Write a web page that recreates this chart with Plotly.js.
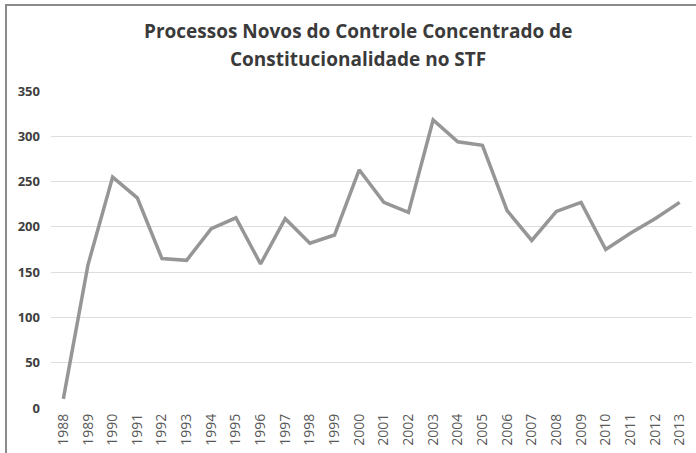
<!DOCTYPE html>
<html>
<head>
<meta charset="utf-8">
<script src="https://cdn.plot.ly/plotly-3.0.1.min.js"></script>
<style>
html,body{margin:0;padding:0;background:#fff;}
#chart{width:696px;height:453px;position:relative;}
#frame{position:absolute;left:5px;top:4px;width:700px;height:460px;border-top:2px solid #8a8a8a;border-left:2px solid #8a8a8a;pointer-events:none;}
</style>
</head>
<body>
<div id="chart"></div>
<div id="frame"></div>
<script>
const years = ["1988","1989","1990","1991","1992","1993","1994","1995","1996","1997","1998","1999","2000","2001","2002","2003","2004","2005","2006","2007","2008","2009","2010","2011","2012","2013"];
const processos = [10,158,255,232,165,163,198,210,159,209,182,191,263,227,216,318,294,290,218,185,217,227,175,193,209,227];
const yTicks = [0,50,100,150,200,250,300,350];
const titleLines = ['Processos Novos do Controle Concentrado de', 'Constitucionalidade no STF'];

const plotH = 453 - 91 - 45;
const titleFont = {family: 'Open Sans, sans-serif', size: 19, color: '#3a3a3a'};

Plotly.newPlot('chart', [{
  x: years,
  y: processos,
  type: 'scatter',
  mode: 'lines',
  line: {color: '#969696', width: 3.5},
  hoverinfo: 'x+y'
}], {
  width: 696, height: 453,
  margin: {l: 51, r: 4, t: 91, b: 45},
  paper_bgcolor: '#ffffff',
  plot_bgcolor: '#ffffff',
  showlegend: false,
  annotations: [
    {text: '<b>' + titleLines[0] + '</b>', xref: 'paper', yref: 'paper', x: 0.479, y: 1 + 60 / plotH,
     xanchor: 'center', yanchor: 'middle', showarrow: false, font: titleFont},
    {text: '<b>' + titleLines[1] + '</b>', xref: 'paper', yref: 'paper', x: 0.479, y: 1 + 32 / plotH,
     xanchor: 'center', yanchor: 'middle', showarrow: false, font: titleFont}
  ],
  xaxis: {
    type: 'category',
    range: [-0.5, years.length - 0.5],
    tickangle: -90,
    tickfont: {family: 'Open Sans, sans-serif', size: 14, color: '#595959'},
    showgrid: false,
    showline: false,
    ticks: '',
    zeroline: false,
    ticklabelstandoff: 2
  },
  yaxis: {
    range: [0, 350],
    tickvals: yTicks,
    ticktext: yTicks.map(String),
    tickfont: {family: 'Open Sans, sans-serif', size: 13, color: '#404040', weight: 'bold'},
    showgrid: true,
    gridcolor: '#dedede',
    gridwidth: 1,
    showline: false,
    zeroline: false,
    ticks: '',
    ticklabelstandoff: 10
  }
}, {displayModeBar: false, staticPlot: true});
</script>
</body>
</html>
